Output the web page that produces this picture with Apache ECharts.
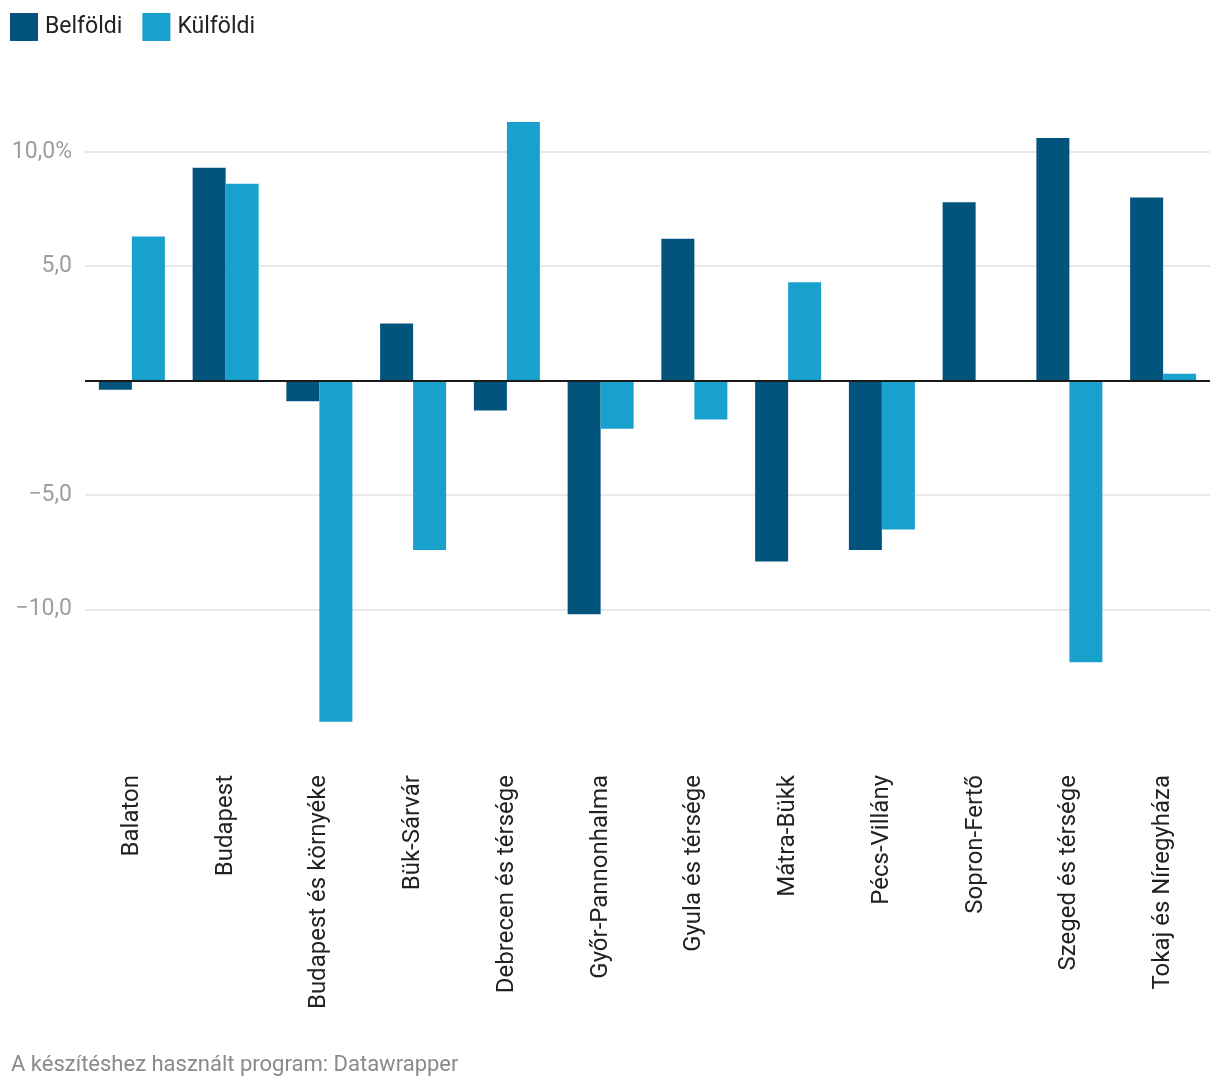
<!DOCTYPE html>
<html>
<head>
<meta charset="utf-8">
<script src="https://cdn.jsdelivr.net/npm/echarts@6/dist/echarts.min.js"></script>
<style>
html,body{margin:0;padding:0;background:#fff;}
#chart{width:1220px;height:1092px;}
</style>
</head>
<body>
<div id="chart"></div>
<script>
const categories = ["Balaton","Budapest","Budapest és környéke","Bük-Sárvár","Debrecen és térsége","Győr-Pannonhalma","Gyula és térsége","Mátra-Bükk","Pécs-Villány","Sopron-Fertő","Szeged és térsége","Tokaj és Níregyháza"];
const belfoldi = [-0.4, 9.3, -0.9, 2.5, -1.3, -10.2, 6.2, -7.9, -7.4, 7.8, 10.6, 8.0];
const kulfoldi = [6.3, 8.6, -14.9, -7.4, 11.3, -2.1, -1.7, 4.3, -6.5, 0, -12.3, 0.3];
const seriesNames = ["Belföldi","Külföldi"];
const footer = "A készítéshez használt program: Datawrapper";

const chart = echarts.init(document.getElementById('chart'), null, {renderer:'canvas'});
const font = 'Roboto';
chart.setOption({
  animation:false,
  backgroundColor:'#fff',
  textStyle:{fontFamily:font},
  color:['#02547d','#18a1cd'],
  legend:{
    left:5, top:8, itemWidth:28, itemHeight:28, itemGap:20,
    icon:'rect',
    textStyle:{fontFamily:font, fontSize:23, color:'#222', padding:[0,0,0,2]},
    data:seriesNames
  },
  graphic:[{type:'text', left:11, top:1054, style:{text:footer, font:'22px Roboto', fill:'#8a8a8a'}}],
  grid:{left:85, right:10, top:106, bottom:368, containLabel:false},
  xAxis:{
    type:'category', data:categories,
    axisLine:{show:false, onZero:false},
    axisTick:{show:false},
    axisLabel:{rotate:90, margin:51, fontSize:24, color:'#222', fontFamily:font, interval:0}
  },
  yAxis:{
    type:'value', min:-15, max:12, interval:5,
    axisLine:{show:false}, axisTick:{show:false},
    splitLine:{show:true, showMinLine:false, showMaxLine:false, lineStyle:{color:'#e2e2e2', width:1.5}},
    axisLabel:{
      showMinLabel:false, showMaxLabel:false, margin:13, fontSize:23, color:'#9e9e9e', fontFamily:font,
      formatter:function(v){
        if (v===0) return '';
        let s = Math.abs(v).toFixed(1).replace('.', ',');
        if (v<0) s = '\u2212' + s;
        if (v===10) s += '%';
        return s;
      }
    }
  },
  series:[
    {name:seriesNames[0], type:'bar', data:belfoldi, barWidth:33, barGap:0,
     markLine:{silent:true, symbol:'none', label:{show:false}, lineStyle:{color:'#1a1a1a', width:2, type:'solid'}, data:[{yAxis:0}]}},
    {name:seriesNames[1], type:'bar', data:kulfoldi, barWidth:33, barGap:0}
  ]
});
</script>
</body>
</html>
